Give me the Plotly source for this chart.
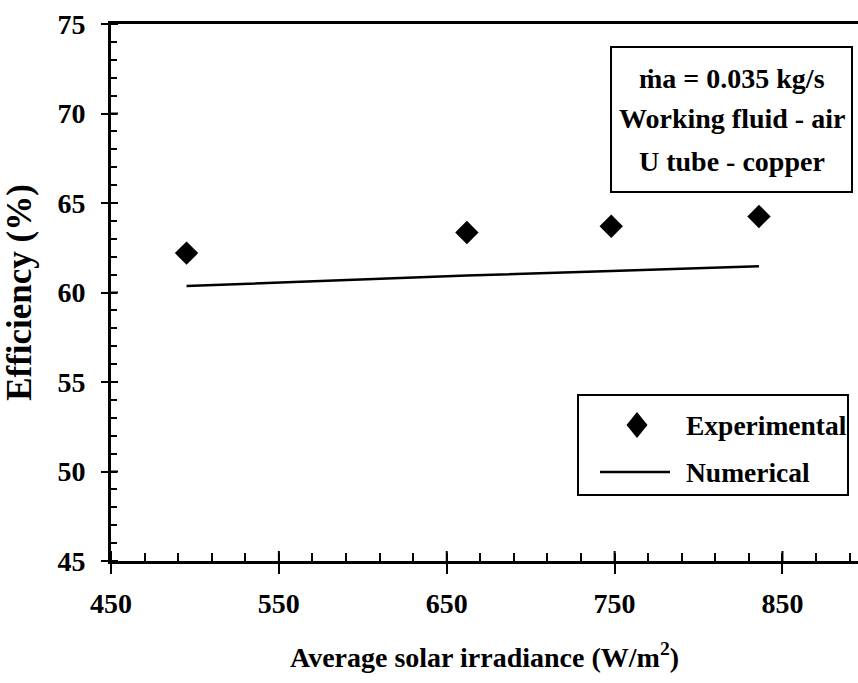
import plotly.graph_objects as go

# Measured thermal efficiency against average solar irradiance
irradiance_exp = [495, 662, 748, 836]
efficiency_exp = [62.2, 63.35, 63.7, 64.25]

# Numerical model prediction at the same irradiance levels
irradiance_num = [495, 662, 748, 836]
efficiency_num = [60.36, 60.95, 61.2, 61.47]

x_major = [450, 550, 650, 750, 850]
y_major = [45, 50, 55, 60, 65, 70, 75]

info_lines = ["ṁa = 0.035 kg/s", "Working fluid - air", "U tube - copper"]
legend_names = ["Experimental", "Numerical"]

W, H = 858, 683
ML, MR, MT, MB = 111, 0, 24, 122
PW, PH = W - ML - MR, H - MT - MB
FONT = "Liberation Serif, Times New Roman, serif"


def px(x):
    return (x - ML) / PW


def py(y):
    return (H - MB - y) / PH


fig = go.Figure()

fig.add_trace(go.Scatter(
    x=irradiance_num, y=efficiency_num, mode="lines",
    line=dict(color="black", width=2.5), name=legend_names[1],
    showlegend=False,
))
fig.add_trace(go.Scatter(
    x=irradiance_exp, y=efficiency_exp, mode="markers",
    marker=dict(symbol="diamond", size=18, color="black"),
    name=legend_names[0], showlegend=False,
))

tick_font = dict(family=FONT, size=28, color="black", weight="bold")
x_range = [450, 895]
y_range = [45, 75]

fig.update_layout(
    width=W, height=H,
    margin=dict(l=ML, r=MR, t=MT, b=MB),
    paper_bgcolor="white", plot_bgcolor="white",
    xaxis=dict(
        range=x_range, tickvals=x_major, ticks="outside", ticklen=10,
        tickwidth=2, tickcolor="black", showline=True, linewidth=3,
        linecolor="black", mirror=True, showgrid=False, zeroline=False,
        tickfont=tick_font, automargin=False, ticklabelstandoff=5,
        minor=dict(ticks="inside", ticklen=8, tickwidth=2, tickcolor="black",
                   tick0=450, dtick=20, showgrid=False),
        title=dict(text="Average solar irradiance (W/m<sup>2</sup>)",
                   font=dict(family=FONT, size=28, color="black", weight="bold"),
                   standoff=30),
    ),
    yaxis=dict(
        range=y_range, tickvals=y_major, ticks="outside", ticklen=7,
        tickwidth=2, tickcolor="black", showline=True, linewidth=3,
        linecolor="black", showgrid=False, zeroline=False,
        tickfont=tick_font, automargin=False, ticklabelstandoff=10,
        minor=dict(ticks="inside", ticklen=6, tickwidth=2, tickcolor="black",
                   tick0=45, dtick=1, showgrid=False),
        title=dict(text="Efficiency (%)",
                   font=dict(family=FONT, size=35, color="black", weight="bold"),
                   standoff=20),
    ),
    showlegend=False,
)

# inner half of the crossing major ticks
for v in x_major:
    fig.add_shape(type="line", xref="x", yref="paper", x0=v, x1=v,
                  y0=0, y1=10 / PH, line=dict(color="black", width=2))
for v in y_major:
    fig.add_shape(type="line", xref="paper", yref="y", x0=0, x1=7 / PW,
                  y0=v, y1=v, line=dict(color="black", width=2))

text_font = dict(family=FONT, size=28, color="black", weight="bold")

# operating conditions box
fig.add_shape(type="rect", xref="paper", yref="paper",
              x0=px(611), x1=px(852), y0=py(192), y1=py(47),
              line=dict(color="black", width=2), fillcolor="white", layer="above")
for line_text, yc in zip(info_lines, [78, 119, 161]):
    fig.add_annotation(text=line_text, xref="paper", yref="paper",
                       x=px(731.5), y=py(yc), xanchor="center", yanchor="middle",
                       showarrow=False, font=text_font)

# legend box
fig.add_shape(type="rect", xref="paper", yref="paper",
              x0=px(578), x1=px(848), y0=py(495), y1=py(395),
              line=dict(color="black", width=2), fillcolor="white", layer="above")
cx, cy, hw, hh = 637, 425, 10.5, 13
fig.add_shape(type="path", xref="paper", yref="paper",
              path=(f"M {px(cx)} {py(cy - hh)} L {px(cx + hw)} {py(cy)} "
                    f"L {px(cx)} {py(cy + hh)} L {px(cx - hw)} {py(cy)} Z"),
              fillcolor="black", line=dict(color="black", width=0), layer="above")
fig.add_shape(type="line", xref="paper", yref="paper",
              x0=px(600), x1=px(670), y0=py(472), y1=py(472),
              line=dict(color="black", width=2.5), layer="above")
for name, yc in zip(legend_names, [425, 472]):
    fig.add_annotation(text=name, xref="paper", yref="paper",
                       x=px(684), y=py(yc), xanchor="left", yanchor="middle",
                       showarrow=False, font=dict(family=FONT, size=27.5,
                                                  color="black", weight="bold"))

fig.write_html("out.html")
